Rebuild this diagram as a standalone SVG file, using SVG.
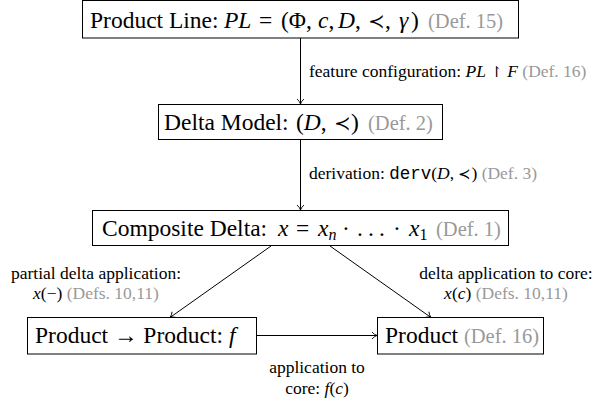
<svg xmlns="http://www.w3.org/2000/svg" width="605" height="404" viewBox="0 0 605 404">
<defs>
<style>
.box{fill:#fff;stroke:#000;stroke-width:1}
text{font-family:"Liberation Serif","Times New Roman",serif;fill:#000}
.t{font-size:23.5px}
.l{font-size:17.5px}
.g{fill:#999;font-style:normal}
.gb{font-size:20.5px}
.i{font-style:italic}
.m{font-family:"Liberation Mono","Courier New",monospace}
.s{font-family:"DejaVu Serif",serif;font-style:normal}
.c{fill:none;stroke:#000;stroke-width:1}
</style>
<marker id="ah" markerWidth="10" markerHeight="10" refX="8" refY="5" orient="auto" markerUnits="userSpaceOnUse">
<path d="M3,1.5 Q5,4 8,5 Q5,6 3,8.5" fill="none" stroke="#000" stroke-width="0.9"/>
</marker>
</defs>
<rect width="605" height="404" fill="#fff"/>
<g id="connectors">
<line class="c" x1="300.5" y1="38" x2="300.5" y2="104" marker-end="url(#ah)"/>
<line class="c" x1="300.5" y1="140" x2="300.5" y2="210" marker-end="url(#ah)"/>
<line class="c" x1="271" y1="246" x2="170" y2="317.5" marker-end="url(#ah)"/>
<line class="c" x1="330" y1="246" x2="431" y2="317.5" marker-end="url(#ah)"/>
<line class="c" x1="257" y1="335.5" x2="377" y2="335.5" marker-end="url(#ah)"/>
<text class="l" x="309" y="77">feature configuration: <tspan class="i">PL</tspan> <tspan class="s" font-size="15">↾</tspan> <tspan class="i">F</tspan> <tspan class="g">(Def. 16)</tspan></text>
<text class="l" x="309" y="179">derivation: <tspan class="m">derv</tspan>(<tspan class="i">D</tspan>, <tspan class="s" font-size="15">≺</tspan>) <tspan class="g">(Def. 3)</tspan></text>
<text class="l" x="96" y="279" text-anchor="middle">partial delta application:</text>
<text class="l" x="96" y="299" text-anchor="middle"><tspan class="i">x</tspan>(−) <tspan class="g">(Defs. 10,11)</tspan></text>
<text class="l" x="506" y="279" text-anchor="middle">delta application to core:</text>
<text class="l" x="506" y="299" text-anchor="middle"><tspan class="i">x</tspan>(<tspan class="i">c</tspan>) <tspan class="g">(Defs. 10,11)</tspan></text>
<text class="l" x="317" y="373" text-anchor="middle">application to</text>
<text class="l" x="317" y="394" text-anchor="middle">core: <tspan class="i">f</tspan>(<tspan class="i">c</tspan>)</text>
</g>
<g id="productline">
<rect class="box" x="82.5" y="0.5" width="436" height="37.5"/>
<text class="t" x="90" y="28">Product Line:<tspan class="i" x="224">PL</tspan><tspan x="259">=</tspan><tspan x="281">(Φ,</tspan><tspan class="i" x="318">c</tspan>,<tspan class="i" x="338">D</tspan>,<tspan class="s" x="368" font-size="20">≺</tspan><tspan x="385">,</tspan><tspan class="i" x="399">γ</tspan><tspan x="411">)</tspan><tspan class="g gb" x="428">(Def. 15)</tspan></text>
</g>
<g id="deltamodel">
<rect class="box" x="158.5" y="104.5" width="284" height="35"/>
<text class="t" x="164" y="130">Delta Model:<tspan x="296">(</tspan><tspan class="i">D</tspan>,<tspan class="s" x="334" font-size="20">≺</tspan><tspan x="351">)</tspan><tspan class="g gb" x="368">(Def. 2)</tspan></text>
</g>
<g id="compositedelta">
<rect class="box" x="92.5" y="210.5" width="416" height="35"/>
<text class="t" x="102" y="236">Composite Delta:<tspan class="i" x="278">x</tspan><tspan x="296">=</tspan><tspan class="i" x="318">x</tspan><tspan class="i" font-size="16" dy="4">n</tspan><tspan dy="-4" x="342">·</tspan><tspan x="357">.</tspan><tspan x="368">.</tspan><tspan x="379">.</tspan><tspan x="393">·</tspan><tspan class="i" x="409">x</tspan><tspan font-size="16" dy="4">1</tspan><tspan class="g gb" dy="-4" x="436">(Def. 1)</tspan></text>
</g>
<g id="productfn">
<rect class="box" x="27.5" y="317.5" width="229" height="36.5"/>
<text class="t" x="35" y="343">Product → Product: <tspan class="i">f</tspan></text>
</g>
<g id="product">
<rect class="box" x="377.5" y="317.5" width="166" height="36.5"/>
<text class="t" x="385" y="343">Product <tspan class="g gb">(Def. 16)</tspan></text>
</g>
</svg>
